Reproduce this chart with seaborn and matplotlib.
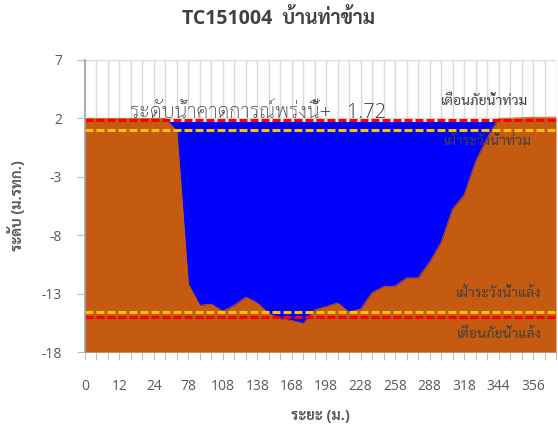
import matplotlib
matplotlib.use("Agg")
import matplotlib.pyplot as plt
from matplotlib import font_manager
import numpy as np
import pandas as pd
import seaborn as sns

# cross-section distance labels (m) and ground level (m MSL), one per category
distance = [0, 4, 8, 12, 16, 20, 24, 42, 60, 78, 88, 98, 108, 118, 128, 138,
            148, 158, 168, 178, 188, 198, 208, 218, 228, 238, 248, 258, 268,
            278, 288, 298, 308, 318, 328, 338, 344, 348, 352, 356, 360, 364]
ground = [2.0, 2.0, 2.0, 2.0, 2.0, 2.0, 2.0, 2.0, 0.9, -12.2, -14.0, -13.9,
          -14.5, -14.0, -13.3, -13.8, -14.7, -15.15, -15.3, -15.55, -14.4,
          -14.1, -13.8, -14.6, -14.3, -12.9, -12.4, -12.35, -11.65, -11.65,
          -10.3, -8.6, -5.75, -4.55, -1.7, 0.3, 2.0, 2.02, 2.05, 2.1, 2.1, 2.12]

water_level = 1.72
flood_warning = 1.85
flood_watch = 1.0
drought_watch = -14.6
drought_warning = -15.0

y_ticks = [7, 2, -3, -8, -13, -18]

title = "TC151004  บ้านท่าข้าม"
forecast_label = "ระดับน้ำคาดการณ์พรุ่งนี้+   1.72"

BROWN = "#C55A11"
BLUE = "#0000FF"
RED = "#FF0000"
GOLD = "#FFC000"
TEXT = "#404040"
TICK = "#595959"


def thai_family():
    names = {f.name for f in font_manager.fontManager.ttflist}
    for n in ["Sarabun", "Noto Sans Thai Looped", "Noto Sans Thai", "Anuphan"]:
        if n in names:
            return n
    return "DejaVu Sans"


def main():
    sns.set_theme(style="white")
    plt.rcParams["font.family"] = ["Open Sans", thai_family(), "DejaVu Sans"]
    plt.rcParams["axes.unicode_minus"] = False

    df = pd.DataFrame({"distance": distance, "ground": ground})
    df["pos"] = np.arange(len(df))
    bottom = min(y_ticks)

    fig = plt.figure(figsize=(5.58, 4.26), dpi=100)
    ax = fig.add_axes([0.1523, 0.1737, 0.8441, 0.6855])

    # water body behind, ground in front
    ax.fill_between(df["pos"], bottom, water_level, color=BLUE, lw=0, zorder=2)
    ax.fill_between(df["pos"], bottom, df["ground"], color=BROWN, lw=0, zorder=3)
    sns.lineplot(data=df, x="pos", y="ground", color=BROWN, lw=0.6, ax=ax, zorder=3)

    dash = (0, (2.6, 1.0))
    for lvl, col in [(flood_warning, RED), (flood_watch, GOLD),
                     (drought_watch, GOLD), (drought_warning, RED)]:
        ax.axhline(lvl, color=col, lw=2.2, linestyle=dash, zorder=4)

    ax.set_xlim(0, len(df) - 1)
    ax.set_ylim(bottom, max(y_ticks))
    ax.set_yticks(y_ticks)
    ax.set_xticks(df["pos"])
    ax.set_xticklabels([str(d) if i % 3 == 0 else "" for i, d in enumerate(distance)])

    ax.set_axisbelow(True)
    ax.grid(True, color="#D9D9D9", lw=1.0)
    for s in ["top", "right"]:
        ax.spines[s].set_visible(False)
    ax.spines["left"].set_color("#A6A6A6")
    ax.spines["bottom"].set_color("#BFBFBF")
    ax.spines["left"].set_zorder(5)
    ax.tick_params(axis="both", which="major", direction="out", length=5.5,
                   width=0.8, color="#BFBFBF", labelcolor=TICK, labelsize=10)
    ax.tick_params(axis="x", pad=14, bottom=True)
    ax.tick_params(axis="y", pad=11, left=True)

    ax.set_xlabel("ระยะ (ม.)", fontsize=10.5, fontweight="bold", color=TICK)
    ax.set_ylabel("ระดับ (ม.รทก.)", fontsize=10.5, fontweight="bold", color=TICK)
    ax.xaxis.set_label_coords(0.5, -0.195)
    ax.yaxis.set_label_coords(-0.128, 0.5)

    fig.text(0.5, 1 - 19 / 426, title, ha="center", va="center",
             fontsize=14, fontweight="bold", color=TEXT)

    ax.text(3.9, 2.05, forecast_label, ha="left", va="baseline",
            fontsize=14.5, fontweight="light", color=TEXT, zorder=6)
    ax.text(34.8, 3.43, "เตือนภัยน้ำท่วม", ha="center", va="center", fontsize=10, color=TEXT, zorder=6)
    ax.text(35.1, 0.0, "เฝ้าระวังน้ำท่วม", ha="center", va="center", fontsize=10, color=TEXT, zorder=6)
    ax.text(36.0, -13.0, "เฝ้าระวังน้ำแล้ง", ha="center", va="center", fontsize=10, color=TEXT, zorder=6)
    ax.text(36.1, -16.5, "เตือนภัยน้ำแล้ง", ha="center", va="center", fontsize=10, color=TEXT, zorder=6)

    fig.savefig("out.png", dpi=100)
    plt.close(fig)


if __name__ == "__main__":
    main()
